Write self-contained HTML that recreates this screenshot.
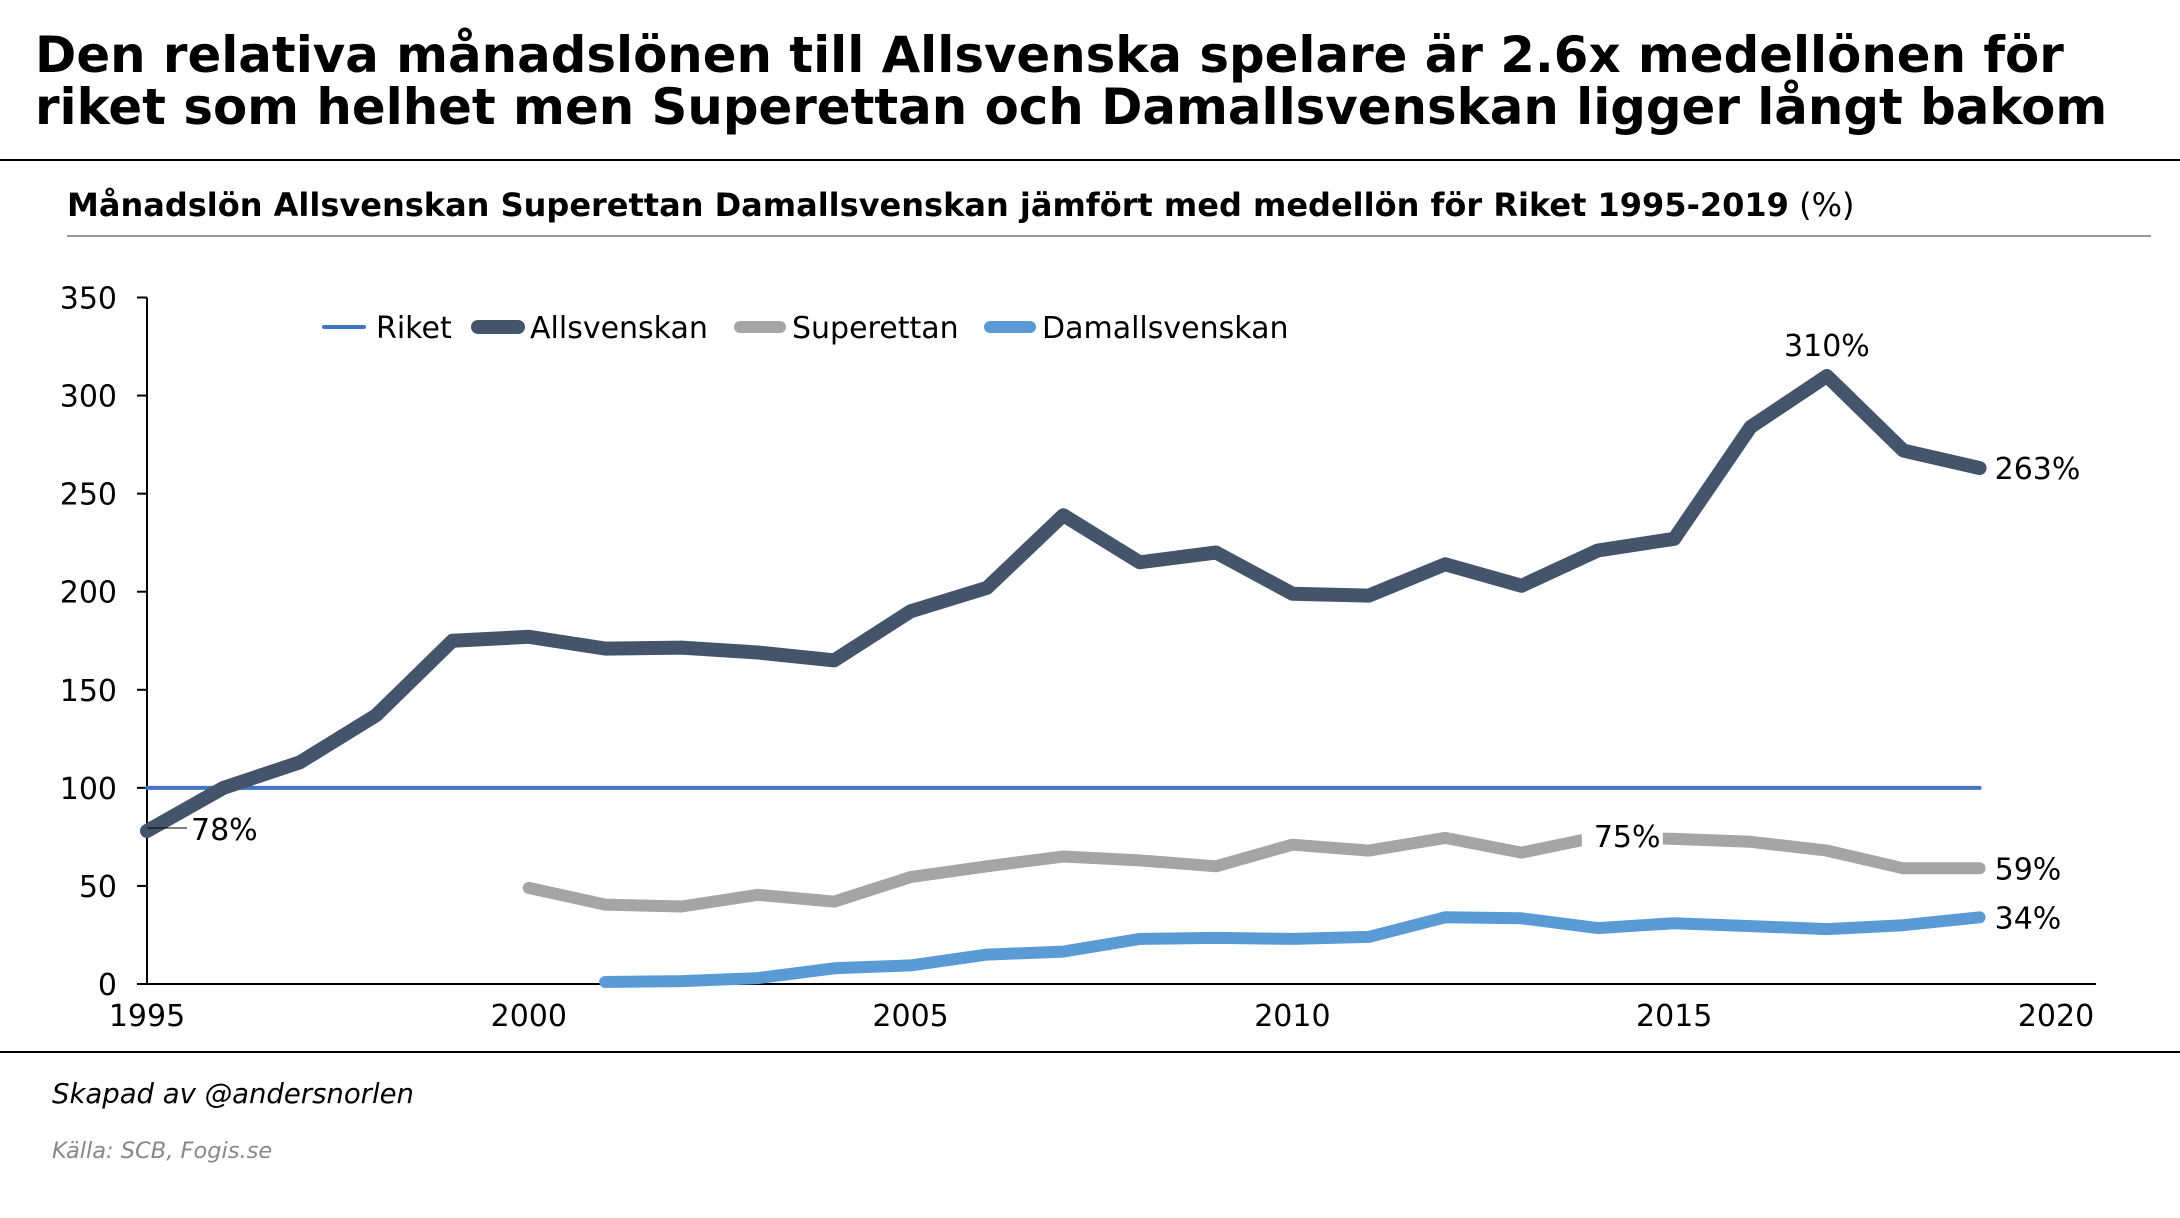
<!DOCTYPE html>
<html><head><meta charset="utf-8"><style>
html,body{margin:0;padding:0;background:#fff}
svg{display:block;font-family:"DejaVu Sans","Liberation Sans",sans-serif}
</style></head><body>
<svg id="chart" width="2180" height="1218" viewBox="0 0 2180 1218">
<text x="35" y="72" font-size="49.8" font-weight="bold">Den relativa månadslönen till Allsvenska spelare är 2.6x medellönen för</text>
<text x="35" y="124" font-size="49.8" font-weight="bold">riket som helhet men Superettan och Damallsvenskan ligger långt bakom</text>
<line x1="0" y1="160" x2="2180" y2="160" stroke="#000" stroke-width="2"/>
<text x="67" y="216" font-size="32"><tspan font-weight="bold">Månadslön Allsvenskan Superettan Damallsvenskan jämfört med medellön för Riket 1995-2019</tspan> (%)</text>
<line x1="67" y1="236" x2="2151" y2="236" stroke="#777" stroke-width="1.5"/>
<g id="plot"></g>
<line x1="0" y1="1052" x2="2180" y2="1052" stroke="#000" stroke-width="2"/>
<text x="52" y="1103" font-size="27.5" font-style="italic">Skapad av @andersnorlen</text>
<text x="52" y="1158" font-size="22.5" font-style="italic" fill="#888">Källa: SCB, Fogis.se</text>
</svg>
<script>
const years=[1995,1996,1997,1998,1999,2000,2001,2002,2003,2004,2005,2006,2007,2008,2009,2010,2011,2012,2013,2014,2015,2016,2017,2018,2019];
const riket=[100,100,100,100,100,100,100,100,100,100,100,100,100,100,100,100,100,100,100,100,100,100,100,100,100];
const allsvenskan=[78,100,113,137,175,177,171,171.5,169,165,190,202,239,215,220,199,198,214,203,221,227,284,310,272,263];
const superettan=[null,null,null,null,null,49,40.5,39.5,45.5,42,54.5,60,65,63,60,71,68,74.5,67,75,74,72.5,68,59,59];
const damallsvenskan=[null,null,null,null,null,null,1,1.5,3,8,9.5,15,16.5,23,23.5,23,24,34,33.5,28.5,31,29.5,28,30,34];
const yTicks=[0,50,100,150,200,250,300,350];
const xTicks=[1995,2000,2005,2010,2015,2020];
const seriesNames=['Riket','Allsvenskan','Superettan','Damallsvenskan'];

const NS='http://www.w3.org/2000/svg';
const g=document.getElementById('plot');
const X0=147,X1=2056,Y0=984,Y1=297.5;
const xs=v=>X0+(v-1995)/(2020-1995)*(X1-X0);
const ys=v=>Y0-(v/350)*(Y0-Y1);
function mk(tag,attrs){const e=document.createElementNS(NS,tag);for(const k in attrs)e.setAttribute(k,attrs[k]);g.appendChild(e);return e;}

let ax=mk('line',{x1:X0,y1:Y1,x2:X0,y2:Y0,stroke:'#000','stroke-width':2});


let bx=mk('line',{x1:X0,y1:Y0,x2:X1+40,y2:Y0,stroke:'#000','stroke-width':2});


yTicks.forEach(t=>{
  const tk=mk('line',{x1:X0-10,y1:ys(t),x2:X0,y2:ys(t),stroke:'#000','stroke-width':2});
  
  
  const tx=mk('text',{x:X0-30,y:ys(t)+11,'font-size':30,'text-anchor':'end'});
  tx.textContent=t;
  
  
});
xTicks.forEach(t=>{
  const tx=mk('text',{x:xs(t),y:Y0+42,'font-size':30,'text-anchor':'middle'});
  tx.textContent=t;
  
  
});

function line(arr,color,w,name){
  let d='';let pen=false;
  arr.forEach((v,i)=>{if(v==null){pen=false;return;}d+=(pen?'L':'M')+xs(years[i]).toFixed(1)+','+ys(v).toFixed(1);pen=true;});
  const p=mk('path',{d:d,fill:'none',stroke:color,'stroke-width':w,'stroke-linejoin':'round','stroke-linecap':'round'});
  
  
}
line(riket,'#4472c4',4,'riket-line');
line(damallsvenskan,'#5b9bd5',12,'damallsvenskan-line');
line(superettan,'#a5a5a5',12,'superettan-line');
line(allsvenskan,'#44546a',14,'allsvenskan-line');

function label(txt,x,y,anchor,name,bg){
  if(bg){const r=mk('rect',{x:x-12,y:y-30,width:txt.length*19+24,height:38,fill:'#fff'});
    
    }
  const t=mk('text',{x:x,y:y,'font-size':30,'text-anchor':anchor});
  t.textContent=txt;
  
  
}
const n=years.length-1;
const l78=mk('line',{x1:xs(1995),y1:ys(allsvenskan[0])-3,x2:xs(1995)+40,y2:ys(allsvenskan[0])-3,stroke:'#000','stroke-width':1});


label(allsvenskan[0]+'%',xs(1995)+44,ys(allsvenskan[0])+9,'start','label-1995');
label(allsvenskan[22]+'%',xs(2017),ys(allsvenskan[22])-20,'middle','label-peak');
label(allsvenskan[n]+'%',xs(2019)+15,ys(allsvenskan[n])+11,'start','label-allsvenskan-end');
label(superettan[19]+'%',xs(2014)-4,ys(superettan[19])+10,'start','label-superettan-2014',true);
label(superettan[n]+'%',xs(2019)+15,ys(superettan[n])+11,'start','label-superettan-end');
label(damallsvenskan[n]+'%',xs(2019)+15,ys(damallsvenskan[n])+11,'start','label-damallsvenskan-end');

const legColors=['#4472c4','#44546a','#a5a5a5','#5b9bd5'];
const legW=[4,14,12,12];
const legX=[324,478,740,990];
seriesNames.forEach((s,i)=>{
  const l=mk('line',{x1:legX[i],y1:327,x2:legX[i]+40,y2:327,stroke:legColors[i],'stroke-width':legW[i],'stroke-linecap':'round'});
  
  
  const t=mk('text',{x:legX[i]+52,y:338,'font-size':30});
  t.textContent=s;
  
  
});
</script>
</body></html>
